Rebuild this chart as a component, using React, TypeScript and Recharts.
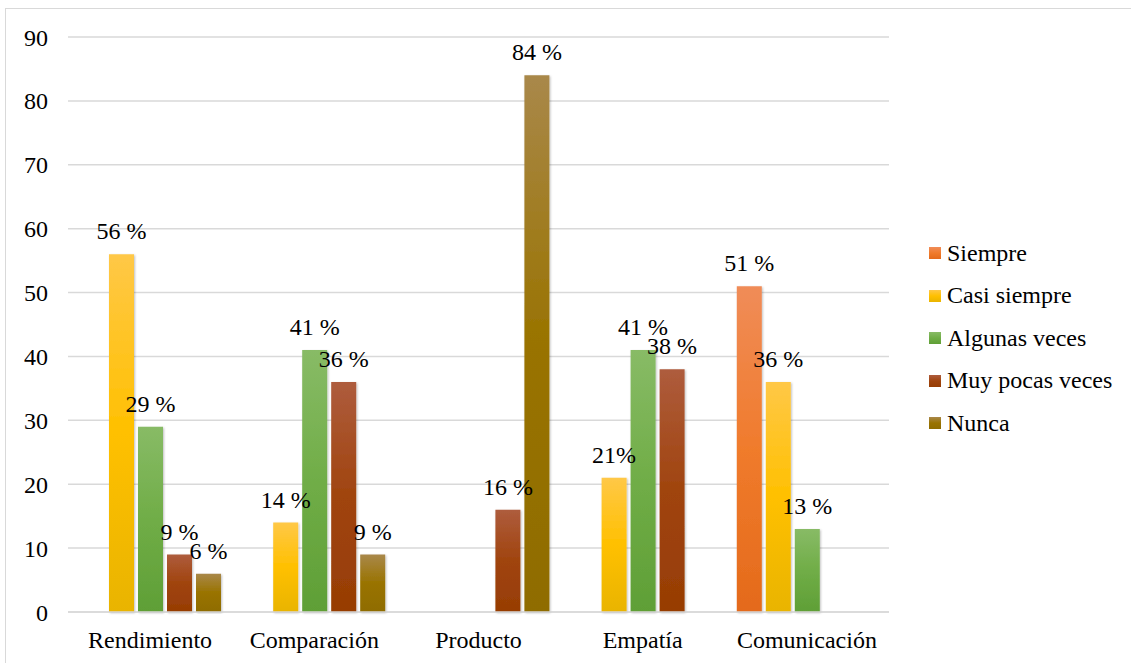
import React from "react"
import { Bar, BarChart, CartesianGrid, LabelList, XAxis, YAxis } from "recharts"

const categories = ["Rendimiento", "Comparación", "Producto", "Empatía", "Comunicación"]

const siempre = [null, null, null, null, 51]
const casiSiempre = [56, 14, null, 21, 36]
const algunasVeces = [29, 41, null, 41, 13]
const muyPocasVeces = [9, 36, 16, 38, null]
const nunca = [6, 9, 84, null, null]

const yTicks = [0, 10, 20, 30, 40, 50, 60, 70, 80, 90]

// one label is written without the space before the percent sign
const tightLabel = { key: "casiSiempre", category: "Empatía" }

const FONT = "Liberation Serif, Tinos, Times New Roman, DejaVu Serif, serif"
const FONT_SIZE = 24
const GRID = "#d9d9d9"

type Series = {
    key: string
    name: string
    values: (number | null)[]
    top: string
    mid: string
    bottom: string
}

const series: Series[] = [
    { key: "siempre", name: "Siempre", values: siempre, top: "#f08c58", mid: "#f07b2c", bottom: "#e46a1b" },
    { key: "casiSiempre", name: "Casi siempre", values: casiSiempre, top: "#ffc847", mid: "#ffc000", bottom: "#e9b400" },
    { key: "algunasVeces", name: "Algunas veces", values: algunasVeces, top: "#88bb66", mid: "#70ad47", bottom: "#5f9f36" },
    { key: "muyPocasVeces", name: "Muy pocas veces", values: muyPocasVeces, top: "#ae5c3d", mid: "#a0440e", bottom: "#973d04" },
    { key: "nunca", name: "Nunca", values: nunca, top: "#a9884a", mid: "#997300", bottom: "#8f6c00" },
]

const data = categories.map((name, i) => {
    const row: Record<string, string | number | null> = { name }
    series.forEach((s) => {
        const v = s.values[i]
        const sep = s.key === tightLabel.key && name === tightLabel.category ? "" : " "
        row[s.key] = v
        row[`${s.key}Label`] = v === null ? null : `${v}${sep}%`
    })
    return row
})

const renderLabel = (props: any) => {
    const { x, y, width, value } = props
    if (value === null || value === undefined) return null
    return (
        <text
            x={Number(x) + Number(width) / 2}
            y={Number(y) - 15}
            textAnchor="middle"
            fill="#000"
            fontFamily={FONT}
            fontSize={FONT_SIZE}
        >
            {value}
        </text>
    )
}

function LegendBox() {
    return (
        <div style={{ position: "absolute", left: 929, top: 232, fontFamily: FONT, fontSize: FONT_SIZE, color: "#000" }}>
            {series.map((s) => (
                <div key={s.key} style={{ display: "flex", alignItems: "center", height: 42.5 }}>
                    <span
                        style={{
                            width: 12,
                            height: 12,
                            marginRight: 6,
                            background: `linear-gradient(${s.top}, ${s.mid} 50%, ${s.bottom})`,
                        }}
                    />
                    <span>{s.name}</span>
                </div>
            ))}
        </div>
    )
}

export default function App() {
    return (
        <div
            style={{
                position: "absolute",
                left: 0,
                top: 0,
                width: 1131,
                height: 663,
                background: "#fff",
                overflow: "hidden",
            }}
        >
            <div
                style={{
                    position: "absolute",
                    left: 5,
                    top: 8,
                    width: 1140,
                    height: 680,
                    border: `1px solid ${GRID}`,
                }}
            />
            <BarChart
                width={1131}
                height={663}
                data={data}
                margin={{ top: 37, right: 242, left: 28, bottom: 0 }}
                barCategoryGap={12}
                barGap={4}
                style={{ position: "absolute", left: 0, top: 0 }}
            >
                <defs>
                    {series.map((s) => (
                        <linearGradient key={s.key} id={`grad-${s.key}`} x1="0" y1="0" x2="0" y2="1">
                            <stop offset="0%" stopColor={s.top} />
                            <stop offset="50%" stopColor={s.mid} />
                            <stop offset="100%" stopColor={s.bottom} />
                        </linearGradient>
                    ))}
                    <filter id="barShadow" x="-20%" y="-5%" width="140%" height="110%">
                        <feDropShadow dx="1" dy="1" stdDeviation="1.2" floodColor="#000" floodOpacity="0.25" />
                    </filter>
                </defs>
                <CartesianGrid vertical={false} stroke={GRID} strokeWidth={1.5} />
                <XAxis
                    dataKey="name"
                    axisLine={{ stroke: GRID, strokeWidth: 1.5 }}
                    tickLine={false}
                    tickSize={0}
                    tickMargin={19}
                    height={51}
                    tick={{ fill: "#000", fontSize: FONT_SIZE, fontFamily: FONT }}
                    interval={0}
                />
                <YAxis
                    domain={[0, 90]}
                    ticks={yTicks}
                    axisLine={false}
                    tickLine={false}
                    tickSize={0}
                    tickMargin={20}
                    width={40}
                    tick={{ fill: "#000", fontSize: FONT_SIZE, fontFamily: FONT }}
                />
                {series.map((s) => (
                    <Bar
                        key={s.key}
                        dataKey={s.key}
                        name={s.name}
                        fill={`url(#grad-${s.key})`}
                        filter="url(#barShadow)"
                        isAnimationActive={false}
                    >
                        <LabelList dataKey={`${s.key}Label`} content={renderLabel} />
                    </Bar>
                ))}
            </BarChart>
            <LegendBox />
        </div>
    )
}
